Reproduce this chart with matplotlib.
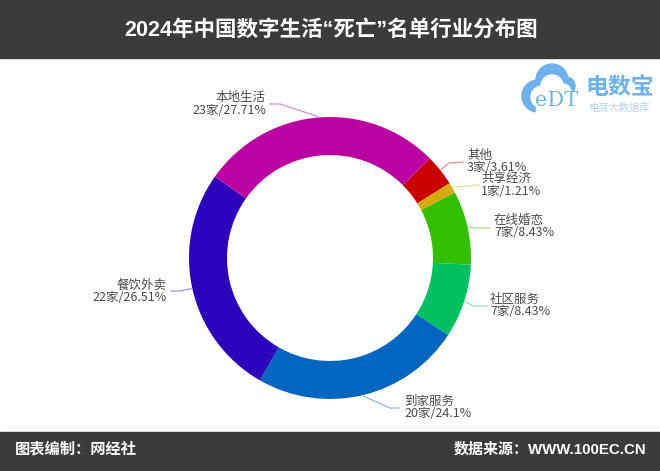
import numpy as np
import matplotlib
matplotlib.use("Agg")
import matplotlib.pyplot as plt
from matplotlib.patches import Rectangle, Circle

plt.rcParams['font.family'] = ['Noto Sans CJK SC', 'DejaVu Sans']
band_font = ['Liberation Sans', 'Noto Sans CJK SC']

title = "2024年中国数字生活“死亡”名单行业分布图"
footer_left = "图表编制：网经社"
footer_right = "数据来源：WWW.100EC.CN"

names = ["其他", "共享经济", "在线婚恋", "社区服务", "到家服务", "餐饮外卖", "本地生活"]
counts = [3, 1, 7, 7, 20, 22, 23]
shares = ["3.61%", "1.21%", "8.43%", "8.43%", "24.1%", "26.51%", "27.71%"]
colours = ["#c80202", "#d6aa12", "#34bf02", "#02c062", "#0265c0", "#2c02ba", "#ba02a2"]

# label anchor, elbow and line end for each slice, in pixels
label_pos = [(467, 161.5), (481, 185), (494, 226.5), (490, 305), (404, 407.5), (167, 291), (266, 104)]
label_ha = ["left", "left", "left", "left", "left", "right", "right"]
elbows = [(449, 163), (466, 186), (480, 228), (473, 306), (390, 408), (180, 291), (280, 104)]
line_ends = [(463, 162), (479, 185), (490, 228), (487, 306), (399, 408), (171, 291), (270, 104)]

cx, cy = 330, 258
radius = 141

fig = plt.figure(figsize=(6.6, 4.71), dpi=100)
ax = fig.add_axes([0, 0, 1, 1])

wedges, _ = ax.pie(counts, colors=colours, startangle=-45, counterclock=True,
                   center=(cx, cy), radius=radius, frame=True,
                   wedgeprops=dict(width=38, linewidth=0))
ax.set_xlim(0, 660)
ax.set_ylim(471, 0)
ax.axis("off")

for w, name, n, share, c, pos, ha, elbow, end in zip(wedges, names, counts, shares, colours,
                                                     label_pos, label_ha, elbows, line_ends):
    mid = np.radians((w.theta1 + w.theta2) / 2)
    sx = cx + (radius + 1) * np.cos(mid)
    sy = cy + (radius + 1) * np.sin(mid)
    ax.plot([sx, elbow[0], end[0]], [sy, elbow[1], end[1]], color=c, lw=0.9, alpha=0.45)
    ax.text(pos[0], pos[1], name + "\n" + str(n) + "家/" + share, ha=ha, va="center",
            fontsize=9, color="#4a4a4a", linespacing=0.92)

# header and footer bands
ax.add_patch(Rectangle((0, 0), 660, 58, color="#3b3b3b", zorder=3))
ax.add_patch(Rectangle((0, 432), 660, 39, color="#3b3b3b", zorder=3))
ax.text(331, 30, title, ha="center", va="center", fontsize=15.5, fontweight="bold",
        family=band_font, color="#ffffff", zorder=4)
ax.text(15, 449, footer_left, ha="left", va="center", fontsize=11, fontweight="bold",
        family=band_font, color="#ffffff", zorder=4)
ax.text(646, 449, footer_right, ha="right", va="center", fontsize=10.8, fontweight="bold",
        family=band_font, color="#ffffff", zorder=4)

# logo
cloud = "#6fb1ea"
for x, y, r in [(538, 96, 16), (552, 80, 16), (566, 86, 9)]:
    ax.add_patch(Circle((x, y), r, color=cloud, zorder=2))
for x, y, r in [(542, 97, 11), (552, 86, 11), (563, 92, 8)]:
    ax.add_patch(Circle((x, y), r, color="#ffffff", zorder=2))
ax.add_patch(Rectangle((536, 92), 46, 24, color="#ffffff", zorder=2))
ax.text(557, 100, "eDT", ha="center", va="center", fontsize=15, family="DejaVu Serif",
        color="#72b4dc", zorder=3)
ax.text(620, 87, "电数宝", ha="center", va="center", fontsize=16.5, fontweight="bold",
        color=cloud)
ax.text(619, 108, "电商大数据库", ha="center", va="center", fontsize=7.4, color="#b5d4f0")

fig.savefig("out.png", dpi=100)
